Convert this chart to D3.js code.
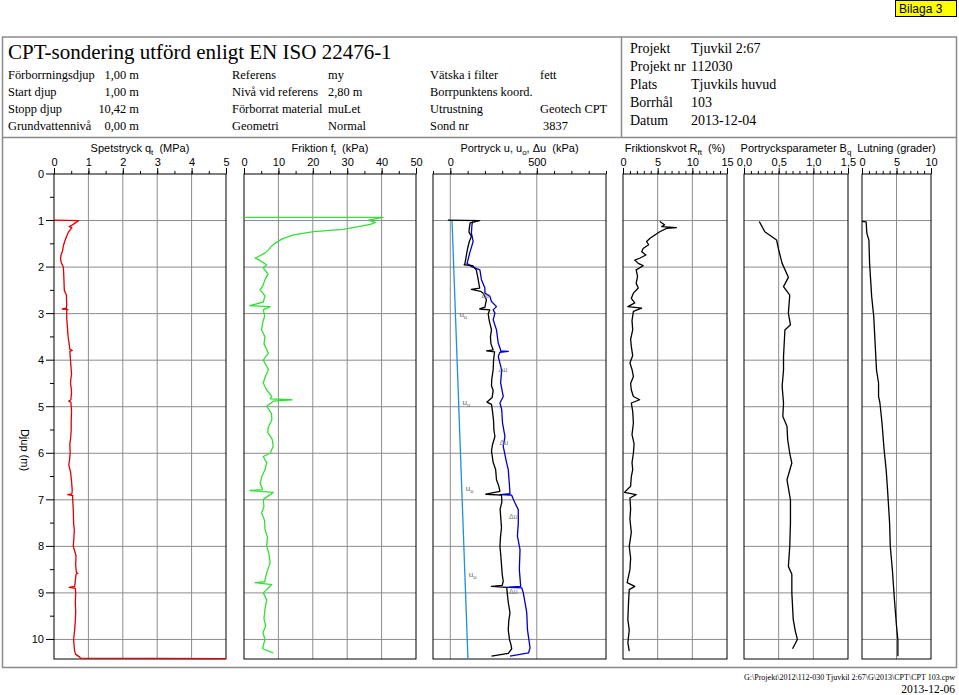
<!doctype html>
<html>
<head>
<meta charset="utf-8"/>
<style>
  body { margin: 0; background: #fff; }
  svg { display: block; }
</style>
</head>
<body>
<script src="https://cdn.jsdelivr.net/npm/d3@7/dist/d3.min.js"></script>
<script>

// ---- header texts ----
const titleText = 'CPT-sondering utförd enligt EN ISO 22476-1';
const infoCol1 = [['Förborrningsdjup', '1,00 m'], ['Start djup', '1,00 m'], ['Stopp djup', '10,42 m'], ['Grundvattennivå', '0,00 m']];
const infoCol2 = [['Referens', 'my'], ['Nivå vid referens', '2,80 m'], ['Förborrat material', 'muLet'], ['Geometri', 'Normal']];
const infoCol3 = [['Vätska i filter', 'fett'], ['Borrpunktens koord.', ''], ['Utrustning', 'Geotech CPT'], ['Sond nr', ' 3837']];
const projInfo = [['Projekt', 'Tjuvkil 2:67'], ['Projekt nr', '112030'], ['Plats', 'Tjuvkils huvud'], ['Borrhål', '103'], ['Datum', '2013-12-04']];
const footerPath = 'G:\\Projekt\\2012\\112-030 Tjuvkil 2:67\\G\\2013\\CPT\\CPT 103.cpw';
const footerDate = '2013-12-06';

// ---- depth axis ----
const maxDepth = 10.42;
const depthTicks = [0, 1, 2, 3, 4, 5, 6, 7, 8, 9, 10];

// ---- traces: [depth (m), value] ----
const qtData = [[0.99,0],[1.00,0.72],[1.06,0.60],[1.11,0.50],[1.13,0.44],[1.15,0.52],[1.25,0.42],[1.35,0.36],[1.45,0.31],[1.55,0.27],[1.65,0.25],[1.75,0.20],[1.82,0.19],[1.90,0.21],[2.00,0.27],[2.10,0.28],[2.30,0.29],[2.50,0.30],[2.55,0.33],[2.60,0.36],[2.80,0.37],[2.88,0.36],[2.90,0.24],[2.91,0.40],[2.93,0.37],[3.10,0.37],[3.30,0.39],[3.50,0.41],[3.70,0.45],[3.77,0.46],[3.79,0.53],[3.81,0.46],[4.00,0.48],[4.10,0.49],[4.20,0.50],[4.30,0.51],[4.40,0.49],[4.50,0.48],[4.60,0.50],[4.70,0.51],[4.85,0.49],[4.88,0.43],[4.90,0.49],[5.10,0.51],[5.30,0.50],[5.50,0.50],[5.70,0.48],[5.80,0.46],[6.00,0.47],[6.15,0.45],[6.25,0.43],[6.40,0.48],[6.60,0.51],[6.80,0.53],[6.87,0.52],[6.89,0.40],[6.91,0.55],[6.95,0.54],[7.20,0.56],[7.50,0.57],[7.65,0.59],[7.80,0.58],[8.00,0.56],[8.10,0.60],[8.20,0.64],[8.40,0.63],[8.56,0.65],[8.58,0.69],[8.60,0.64],[8.80,0.61],[8.86,0.60],[8.88,0.44],[8.90,0.62],[9.00,0.63],[9.20,0.62],[9.40,0.63],[9.60,0.62],[9.80,0.60],[10.00,0.57],[10.10,0.58],[10.25,0.60],[10.32,0.63],[10.38,0.75],[10.40,0.77],[10.41,5.0]];

const fsData = [[0.93,0],[0.93,40.4],[0.99,36.2],[1.04,38.2],[1.08,36.7],[1.19,28.9],[1.24,20.2],[1.31,14.4],[1.40,11.0],[1.49,9.0],[1.55,8.0],[1.63,7.1],[1.70,6.1],[1.81,3.2],[1.84,4.2],[1.95,6.6],[2.02,5.6],[2.15,7.0],[2.27,6.1],[2.40,5.5],[2.49,4.7],[2.62,6.1],[2.75,5.6],[2.83,1.7],[2.85,7.6],[2.92,5.6],[3.05,6.0],[3.20,5.4],[3.35,5.1],[3.50,6.1],[3.65,5.8],[3.85,7.1],[4.00,5.6],[4.20,7.1],[4.35,6.2],[4.49,5.6],[4.64,6.6],[4.78,8.1],[4.83,7.6],[4.85,13.9],[4.88,8.5],[4.99,6.6],[5.15,8.0],[5.28,8.1],[5.45,7.0],[5.55,6.9],[5.70,8.2],[5.85,8.5],[6.00,7.6],[6.07,5.6],[6.20,6.6],[6.35,6.1],[6.50,5.2],[6.64,4.7],[6.78,5.4],[6.80,1.7],[6.84,8.5],[6.99,5.6],[7.15,5.8],[7.28,5.1],[7.45,6.0],[7.64,6.1],[7.80,6.8],[8.00,6.6],[8.14,7.2],[8.35,7.6],[8.57,6.6],[8.76,6.0],[8.78,3.2],[8.82,8.1],[9.00,5.6],[9.15,6.6],[9.35,6.1],[9.55,5.8],[9.71,6.3],[9.85,5.5],[10.00,6.1],[10.20,5.4],[10.29,8.5]];

// black: delta u, blue: measured u
const duData = [[0.99,-14],[1.00,170],[1.05,115],[1.15,110],[1.25,108],[1.34,122],[1.45,110],[1.60,100],[1.75,93],[1.92,85],[1.95,80],[1.97,130],[2.06,150],[2.20,158],[2.35,165],[2.45,170],[2.48,122],[2.52,175],[2.56,190],[2.70,209],[2.86,200],[2.90,170],[2.92,228],[3.00,219],[3.15,225],[3.35,238],[3.50,232],[3.65,235],[3.78,248],[3.80,210],[3.82,256],[4.00,250],[4.20,248],[4.40,240],[4.55,238],[4.65,248],[4.80,242],[4.90,212],[4.95,238],[5.10,244],[5.30,250],[5.50,252],[5.64,258],[5.80,245],[5.95,238],[6.20,248],[6.35,262],[6.57,267],[6.70,280],[6.82,287],[6.88,205],[6.90,296],[7.05,298],[7.20,288],[7.40,292],[7.60,296],[7.80,290],[8.00,287],[8.20,292],[8.40,296],[8.60,300],[8.75,306],[8.84,300],[8.86,238],[8.88,326],[9.00,329],[9.20,335],[9.43,345],[9.60,338],[9.80,335],[10.00,342],[10.10,350],[10.20,355],[10.30,335],[10.36,238]];

const uData = [[1.02,130],[1.10,125],[1.27,122],[1.45,132],[1.70,112],[1.92,97],[1.99,122],[2.06,171],[2.27,180],[2.45,200],[2.56,200],[2.63,229],[2.74,238],[2.85,267],[2.92,248],[2.99,258],[3.13,248],[3.35,267],[3.63,277],[3.78,291],[3.80,291],[3.81,335],[3.83,287],[3.92,277],[4.21,297],[4.49,291],[4.78,306],[4.92,287],[5.06,297],[5.35,302],[5.64,316],[5.85,306],[6.21,326],[6.35,335],[6.64,341],[6.87,345],[6.89,287],[6.90,355],[6.99,364],[7.07,374],[7.21,393],[7.50,393],[7.78,388],[8.07,403],[8.50,399],[8.86,407],[8.88,326],[8.89,413],[9.00,422],[9.21,432],[9.43,442],[9.79,446],[10.18,461],[10.29,452],[10.36,345]];

const u0Data = [[1.00,10],[10.42,102]];
const u0LabelDepths = [3.0, 4.9, 6.75, 8.6];
const duLabels = [[2.6,180],[4.2,280],[5.75,285],[7.35,340],[8.95,340]];

const rfData = [[1.02,5.3],[1.09,6.0],[1.13,5.6],[1.15,7.7],[1.17,6.3],[1.24,5.3],[1.31,4.6],[1.38,3.9],[1.45,3.4],[1.52,3.7],[1.60,2.9],[1.67,2.7],[1.74,3.3],[1.81,2.4],[1.85,1.7],[1.92,2.2],[1.97,2.9],[2.06,1.9],[2.20,2.1],[2.35,1.9],[2.45,2.2],[2.56,1.5],[2.67,1.2],[2.77,1.7],[2.85,0.7],[2.88,2.7],[2.95,1.5],[3.15,1.3],[3.35,1.4],[3.55,1.1],[3.71,1.2],[3.90,1.4],[4.06,1.0],[4.20,1.3],[4.35,1.5],[4.50,1.1],[4.64,1.2],[4.78,1.5],[4.85,2.4],[4.92,1.2],[5.10,1.4],[5.35,1.5],[5.60,1.3],[5.80,1.6],[6.00,1.5],[6.20,1.3],[6.35,1.4],[6.50,1.2],[6.71,1.1],[6.84,0.2],[6.89,1.9],[6.96,1.0],[7.20,1.1],[7.42,1.0],[7.70,1.2],[8.00,0.9],[8.25,1.1],[8.50,1.0],[8.78,0.6],[8.86,1.7],[8.93,0.9],[9.20,0.8],[9.57,0.7],[9.80,0.9],[10.07,0.7],[10.25,0.9]];

const bqData = [[1.02,0.22],[1.24,0.30],[1.42,0.47],[1.63,0.50],[1.92,0.55],[2.22,0.64],[2.42,0.57],[2.60,0.66],[2.99,0.64],[3.24,0.67],[3.35,0.59],[3.92,0.57],[4.21,0.57],[4.56,0.55],[4.92,0.57],[5.21,0.56],[5.42,0.62],[5.71,0.63],[6.00,0.66],[6.21,0.69],[6.57,0.62],[7.00,0.67],[7.50,0.67],[8.00,0.66],[8.43,0.64],[8.60,0.69],[9.00,0.69],[9.57,0.71],[9.82,0.74],[10.00,0.77],[10.20,0.70]];

const lutData = [[1.02,0.0],[1.03,0.6],[1.27,0.7],[1.42,1.0],[1.92,1.1],[2.63,1.4],[3.06,1.7],[3.63,1.9],[4.21,2.1],[4.49,2.4],[4.78,2.4],[4.92,2.6],[5.35,2.9],[5.92,3.2],[6.35,3.5],[6.78,3.7],[7.50,4.0],[8.00,4.1],[8.50,4.4],[9.14,4.7],[9.71,5.0],[10.00,5.2],[10.36,5.2]];

// ---- panel setup ----
const panels = [
  { title: ['Spetstryck q', 't', '  (MPa)'], x0: 54, x1: 226, domain: [0, 5], labels: [0,1,2,3,4,5], grid: [1,2,3,4], minor: 0.5, fmt: d => d },
  { title: ['Friktion f', 't', '  (kPa)'], x0: 244, x1: 416, domain: [0, 50], labels: [0,10,20,30,40,50], grid: [10,20,30,40], minor: 5, fmt: d => d },
  { title: ['Portryck u, u', 'o', ', \u0394u  (kPa)'], x0: 433, x1: 606, domain: [-100, 900], labels: [0,500], grid: [0,500], minor: 100, fmt: d => d },
  { title: ['Friktionskvot R', 'ft', '  (%)'], x0: 623, x1: 727, domain: [0, 15], labels: [0,5,10,15], grid: [5,10], minor: 1, fmt: d => d },
  { title: ['Portrycksparameter B', 'q', ''], x0: 744, x1: 848, domain: [0, 1.5], labels: [0,0.5,1,1.5], grid: [0.5,1], minor: 0.1, fmt: d => d3.format('.1f')(d).replace('.', ',') },
  { title: ['Lutning (grader)', '', ''], x0: 862, x1: 931, domain: [0, 10], labels: [0,5,10], grid: [5], minor: 1, fmt: d => d }
];

const W = 959, H = 695;
const yTop = 174, yBot = 659;
const sans = 'Liberation Sans, Arial, sans-serif';
const serif = 'Liberation Serif, Times New Roman, serif';

const svg = d3.select('body').append('svg')
  .attr('width', W).attr('height', H)
  .attr('viewBox', [0, 0, W, H]);

const y = d3.scaleLinear().domain([0, maxDepth]).range([yTop, yBot]);

// ---- frames ----
const frameColor = '#8a8a8a';
svg.append('rect').attr('x', 2.5).attr('y', 37).attr('width', 954).attr('height', 630.5)
  .attr('fill', 'none').attr('stroke', frameColor).attr('stroke-width', 1.5);
svg.append('line').attr('x1', 2).attr('x2', 957).attr('y1', 137.5).attr('y2', 137.5)
  .attr('stroke', frameColor).attr('stroke-width', 1.5);
svg.append('line').attr('x1', 621.5).attr('x2', 621.5).attr('y1', 37).attr('y2', 137)
  .attr('stroke', frameColor).attr('stroke-width', 1.5);

// Bilaga box
svg.append('rect').attr('x', 895.5).attr('y', 0.5).attr('width', 61).attr('height', 16)
  .attr('fill', '#ffff00').attr('stroke', '#000');
svg.append('text').attr('x', 899).attr('y', 13).attr('font-family', sans).attr('font-size', 12)
  .text('Bilaga 3');

// ---- header ----
svg.append('text').attr('x', 8).attr('y', 59).attr('font-family', serif).attr('font-size', 21)
  .text(titleText);

const rowY = [79, 96, 113, 130];
const hdr = svg.append('g').attr('font-family', serif).attr('font-size', 12.4);
infoCol1.forEach((r, i) => {
  hdr.append('text').attr('x', 8).attr('y', rowY[i]).text(r[0]);
  hdr.append('text').attr('x', 139).attr('y', rowY[i]).attr('text-anchor', 'end').text(r[1]);
});
infoCol2.forEach((r, i) => {
  hdr.append('text').attr('x', 232).attr('y', rowY[i]).text(r[0]);
  hdr.append('text').attr('x', 328).attr('y', rowY[i]).text(r[1]);
});
infoCol3.forEach((r, i) => {
  hdr.append('text').attr('x', 430).attr('y', rowY[i]).text(r[0]);
  hdr.append('text').attr('x', 540).attr('y', rowY[i]).attr('xml:space', 'preserve')
    .style('white-space', 'pre').text(r[1]);
});
const projY = [53, 71, 89, 107, 125];
const hdr2 = svg.append('g').attr('font-family', serif).attr('font-size', 14);
projInfo.forEach((r, i) => {
  hdr2.append('text').attr('x', 630).attr('y', projY[i]).text(r[0]);
  hdr2.append('text').attr('x', 691).attr('y', projY[i]).text(r[1]);
});

// ---- depth axis ----
const depthAxis = svg.append('g');
depthTicks.forEach(d => {
  depthAxis.append('line').attr('x1', 46).attr('x2', 54).attr('y1', y(d)).attr('y2', y(d)).attr('stroke', '#000');
  depthAxis.append('text').attr('x', 44).attr('y', y(d) + 4).attr('text-anchor', 'end')
    .attr('font-family', sans).attr('font-size', 11).text(d);
});
d3.range(0.5, 10.5, 1).forEach(d => {
  depthAxis.append('line').attr('x1', 50).attr('x2', 54).attr('y1', y(d)).attr('y2', y(d)).attr('stroke', '#000');
});
svg.append('text').attr('transform', `translate(21,450) rotate(90)`).attr('text-anchor', 'middle')
  .attr('font-family', sans).attr('font-size', 11).text('Djup (m)');

// ---- panels ----
const line = x => d3.line().x(d => x(d[1])).y(d => y(d[0]));

const scales = panels.map(p => {
  const x = d3.scaleLinear().domain(p.domain).range([p.x0, p.x1]);
  const g = svg.append('g');

  // grid
  g.selectAll('.vg').data(p.grid).join('line')
    .attr('x1', d => x(d)).attr('x2', d => x(d)).attr('y1', yTop).attr('y2', yBot)
    .attr('stroke', '#8c8c8c').attr('stroke-width', 1);
  g.selectAll('.hg').data(depthTicks.slice(1)).join('line')
    .attr('x1', p.x0).attr('x2', p.x1).attr('y1', d => y(d)).attr('y2', d => y(d))
    .attr('stroke', '#8c8c8c').attr('stroke-width', 1);

  // border
  g.append('rect').attr('x', p.x0).attr('y', yTop).attr('width', p.x1 - p.x0).attr('height', yBot - yTop)
    .attr('fill', 'none').attr('stroke', '#000').attr('stroke-width', 1);

  // top axis: minor then major
  const minorVals = d3.range(p.domain[0], p.domain[1] + p.minor / 2, p.minor);
  g.append('g').attr('transform', `translate(0,${yTop})`)
    .call(d3.axisTop(x).tickValues(minorVals).tickSize(3).tickFormat(''))
    .call(a => a.select('.domain').remove())
    .call(a => a.selectAll('line').attr('stroke', '#000'));
  g.append('g').attr('transform', `translate(0,${yTop})`)
    .call(d3.axisTop(x).tickValues(p.labels).tickSize(6).tickPadding(2).tickFormat(p.fmt))
    .call(a => a.select('.domain').remove())
    .call(a => a.selectAll('line').attr('stroke', '#000'))
    .call(a => a.selectAll('text').attr('font-family', sans).attr('font-size', 11).attr('fill', '#000'));

  // title
  const t = g.append('text').attr('x', (p.x0 + p.x1) / 2).attr('y', 152).attr('text-anchor', 'middle')
    .attr('font-family', sans).attr('font-size', 11).style('white-space', 'pre');
  t.append('tspan').text(p.title[0]);
  if (p.title[1]) t.append('tspan').attr('font-size', 8).attr('dy', 3).text(p.title[1]);
  if (p.title[2]) t.append('tspan').attr('dy', p.title[1] ? -3 : 0).text(p.title[2]);
  return { x, g };
});

const traceW = 1.3;
function trace(i, data, color, w) {
  scales[i].g.append('path').datum(data)
    .attr('d', line(scales[i].x)).attr('fill', 'none')
    .attr('stroke', color).attr('stroke-width', w || traceW).attr('stroke-linejoin', 'round');
}

trace(0, qtData, '#e00000');
trace(1, fsData, '#33e033');
trace(2, u0Data, '#1e90dd', 1.3);
trace(2, uData, '#0000c8');
trace(2, duData, '#000');
trace(3, rfData, '#000');
trace(4, bqData, '#000');
trace(5, lutData, '#000');

// u0 / du labels
const ux = scales[2].x;
const u0At = d => u0Data[0][1] + (d - u0Data[0][0]) * (u0Data[1][1] - u0Data[0][1]) / (u0Data[1][0] - u0Data[0][0]);
u0LabelDepths.forEach(d => {
  const t = scales[2].g.append('text').attr('x', ux(u0At(d)) + 4).attr('y', y(d) + 3)
    .attr('font-family', sans).attr('font-size', 8).attr('fill', '#666');
  t.append('tspan').text('u');
  t.append('tspan').attr('font-size', 6).attr('dy', 2).text('o');
});
duLabels.forEach(d => {
  scales[2].g.append('text').attr('x', ux(d[1])).attr('y', y(d[0]) + 3)
    .attr('font-family', sans).attr('font-size', 7).attr('fill', '#777').text('\u0394u');
});

// ---- footer ----
svg.append('text').attr('x', 955).attr('y', 680).attr('text-anchor', 'end')
  .attr('font-family', serif).attr('font-size', 8).text(footerPath);
svg.append('text').attr('x', 955).attr('y', 692.5).attr('text-anchor', 'end')
  .attr('font-family', serif).attr('font-size', 11.5).text(footerDate);

</script>
</body>
</html>
